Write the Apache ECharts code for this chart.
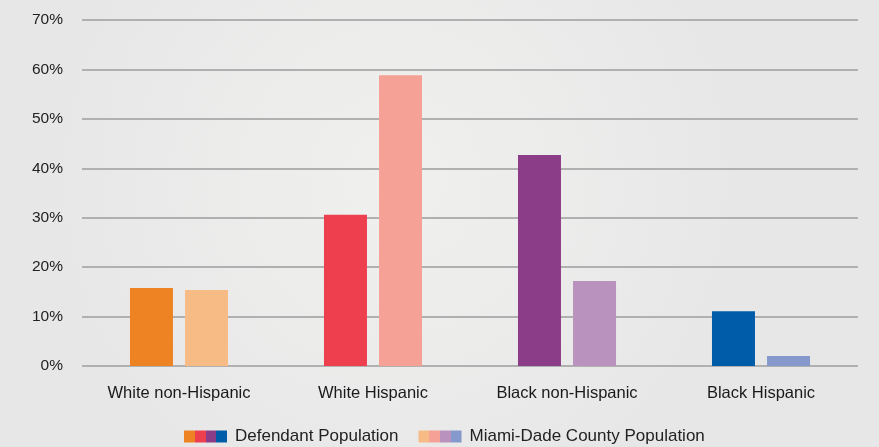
<!DOCTYPE html>
<html><head><meta charset="utf-8">
<script src="https://cdn.jsdelivr.net/npm/echarts@6/dist/echarts.min.js"></script>
<style>html,body{margin:0;padding:0;}#c{width:879px;height:447px;}</style>
</head><body><div id="c"></div>
<script>
const categories = ['White non-Hispanic', 'White Hispanic', 'Black non-Hispanic', 'Black Hispanic'];
const defendantValues = [15.8, 30.6, 42.7, 11.1];
const miamiValues = [15.4, 58.8, 17.2, 2.0];
const yTicks = [0, 10, 20, 30, 40, 50, 60, 70];
const defendantColors = ['#ee8323', '#ee3f4f', '#8b3d88', '#005ca9'];
const miamiColors = ['#f7bb85', '#f5a196', '#b993bd', '#8599cc'];
const seriesNames = ['Defendant Population', 'Miami-Dade County Population'];

function stripe(colors) {
  const stops = [];
  colors.forEach((c, i) => {
    stops.push({offset: i / colors.length, color: c});
    stops.push({offset: (i + 1) / colors.length, color: c});
  });
  return new echarts.graphic.LinearGradient(0, 0, 1, 0, stops);
}

const chart = echarts.init(document.getElementById('c'));
const font = '"Liberation Sans", Arial, sans-serif';
chart.setOption({
  animation: false,
  backgroundColor: {
    type: 'radial', x: 0.45, y: 0.4, r: 0.8,
    colorStops: [{offset: 0, color: '#f0f0ef'}, {offset: 1, color: '#e7e7e7'}]
  },
  textStyle: {fontFamily: font},
  grid: {left: 82, right: 21, top: 20, bottom: 81, containLabel: false},
  legend: {
    top: 428, left: 184, padding: 0,
    itemWidth: 43, itemHeight: 12, itemGap: 20,
    icon: 'rect',
    textStyle: {fontSize: 17, color: '#222', fontFamily: font, padding: [0, 0, 0, 3]},
    data: seriesNames
  },
  xAxis: {
    type: 'category', data: categories,
    axisLine: {show: false}, axisTick: {show: false},
    axisLabel: {fontSize: 16.5, color: '#1a1a1a', margin: 19, fontFamily: font}
  },
  yAxis: {
    type: 'value', min: yTicks[0], max: yTicks[yTicks.length - 1], interval: 10,
    axisLine: {show: false}, axisTick: {show: false},
    axisLabel: {formatter: '{value}%', fontSize: 15.5, color: '#222', margin: 19, fontFamily: font},
    splitLine: {lineStyle: {color: '#b0b0b0', width: 2}}
  },
  series: [
    {
      name: seriesNames[0], type: 'bar', barWidth: 43, barGap: '28%',
      itemStyle: {color: stripe(defendantColors)},
      data: defendantValues.map((v, i) => ({value: v, itemStyle: {color: defendantColors[i]}}))
    },
    {
      name: seriesNames[1], type: 'bar', barWidth: 43,
      itemStyle: {color: stripe(miamiColors)},
      data: miamiValues.map((v, i) => ({value: v, itemStyle: {color: miamiColors[i]}}))
    }
  ]
});
</script></body></html>
